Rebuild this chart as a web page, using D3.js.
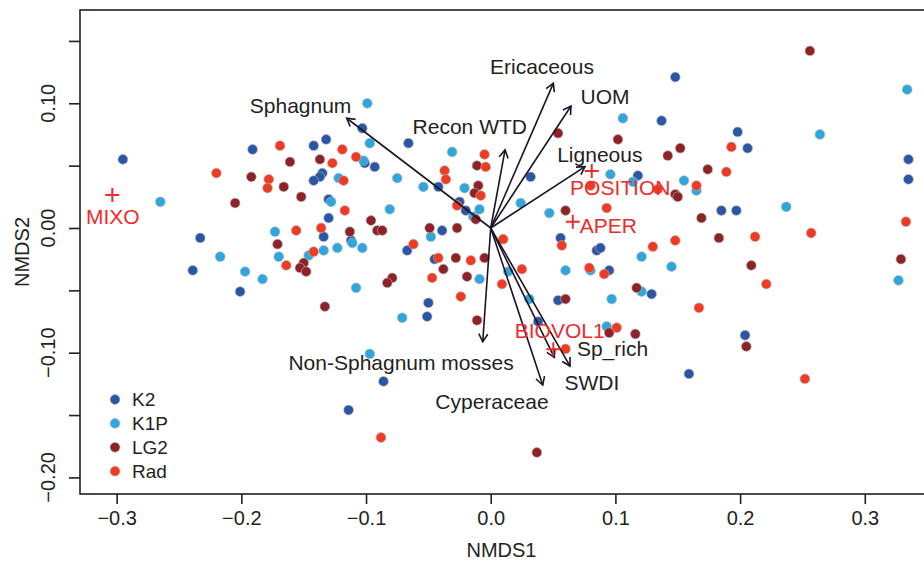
<!DOCTYPE html>
<html lang="en">
<head>
<meta charset="UTF-8">
<title>NMDS ordination</title>
<script src="https://d3js.org/d3.v7.min.js"></script>
<style>
    body { margin: 0; background: #fff; }
    svg { display: block; font-family: Helvetica, Arial, "Liberation Sans", sans-serif; }
</style>
</head>
<body>
<svg width="924" height="562"></svg>
<script>
// site scores (NMDS1, NMDS2) per group
const k2 = [[-0.295,0.055],[-0.191,0.063],[-0.233,-0.008],[-0.239,-0.034],[-0.201,-0.051],[-0.103,0.080],[-0.066,0.068],[-0.142,0.066],[-0.132,0.071],[-0.101,0.052],[-0.093,0.049],[-0.135,0.044],[-0.137,0.041],[-0.142,0.038],[-0.042,0.033],[-0.130,0.023],[-0.130,0.008],[-0.025,0.021],[-0.020,0.014],[-0.134,-0.007],[-0.039,-0.002],[-0.112,-0.010],[-0.067,-0.018],[-0.045,-0.025],[-0.050,-0.060],[-0.051,-0.071],[-0.086,-0.123],[-0.114,-0.146],[0.148,0.121],[0.137,0.086],[0.032,0.041],[0.118,0.042],[0.056,-0.008],[0.085,-0.018],[0.088,-0.016],[0.095,-0.034],[0.054,-0.058],[0.129,-0.053],[0.038,-0.075],[0.159,-0.117],[0.198,0.077],[0.206,0.064],[0.335,0.055],[0.335,0.039],[0.185,0.014],[0.197,0.014],[0.204,-0.086]];
const k1p = [[-0.265,0.021],[-0.173,-0.003],[-0.217,-0.023],[-0.170,-0.023],[-0.197,-0.035],[-0.183,-0.041],[-0.099,0.100],[-0.097,0.068],[-0.102,0.054],[-0.031,0.061],[-0.075,0.040],[-0.122,0.040],[-0.054,0.033],[-0.021,0.032],[-0.128,0.021],[-0.081,0.015],[-0.009,0.015],[-0.014,0.009],[-0.048,-0.007],[-0.111,-0.012],[-0.103,-0.016],[-0.123,-0.016],[-0.134,-0.018],[-0.146,-0.022],[-0.108,-0.048],[-0.071,-0.072],[-0.097,-0.101],[0.106,0.088],[0.096,0.043],[0.114,0.037],[0.155,0.038],[0.165,0.030],[0.024,0.020],[0.047,0.012],[0.121,-0.023],[0.014,-0.035],[0.060,-0.034],[0.080,-0.034],[0.145,-0.031],[0.031,-0.057],[0.097,-0.057],[0.121,-0.051],[0.093,-0.079],[-0.009,-0.041],[0.334,0.111],[0.264,0.075],[0.237,0.017],[0.327,-0.042]];
const lg2 = [[-0.192,0.041],[-0.166,0.033],[-0.205,0.020],[-0.171,-0.013],[-0.161,0.053],[-0.137,0.055],[-0.011,0.050],[-0.010,0.034],[-0.013,0.028],[-0.152,0.025],[-0.012,0.007],[-0.096,0.006],[-0.091,-0.002],[-0.087,-0.002],[-0.113,-0.003],[-0.049,0.000],[-0.027,0.000],[-0.028,-0.024],[-0.005,-0.024],[-0.150,-0.028],[-0.153,-0.032],[-0.148,-0.035],[-0.079,-0.040],[-0.083,-0.044],[-0.133,-0.063],[-0.038,-0.033],[-0.019,-0.039],[-0.011,-0.074],[0.054,0.076],[0.102,0.071],[0.152,0.064],[0.142,0.058],[0.174,0.047],[0.148,0.027],[0.150,0.025],[0.060,0.014],[0.169,0.008],[0.060,-0.057],[0.117,-0.048],[0.095,-0.084],[0.116,-0.085],[0.037,-0.180],[0.256,0.142],[0.183,-0.008],[0.329,-0.025],[0.209,-0.030],[0.205,-0.095]];
const rad = [[-0.169,0.066],[-0.220,0.044],[-0.178,0.039],[-0.179,0.032],[-0.164,-0.030],[-0.119,0.063],[-0.127,0.052],[-0.108,0.057],[-0.005,0.059],[-0.004,0.049],[-0.037,0.046],[-0.036,0.039],[-0.118,0.038],[-0.008,0.026],[-0.117,0.014],[-0.027,0.018],[-0.156,-0.002],[-0.136,0.000],[-0.142,-0.019],[-0.062,-0.013],[-0.042,-0.024],[-0.016,-0.026],[-0.047,-0.040],[-0.024,-0.055],[-0.088,-0.168],[0.093,0.016],[0.080,0.034],[0.134,0.031],[0.165,0.034],[0.010,-0.009],[0.057,-0.014],[0.130,-0.015],[0.148,-0.010],[0.025,-0.033],[0.009,-0.045],[0.079,-0.032],[0.091,-0.037],[0.167,-0.064],[0.101,-0.080],[0.060,-0.097],[0.193,0.065],[0.189,0.045],[0.212,-0.007],[0.257,-0.004],[0.333,0.005],[0.221,-0.045],[0.252,-0.121]];

const groupNames = ["K2", "K1P", "LG2", "Rad"];
const groupColors = ["#2b55a5", "#2fa7dd", "#8e2327", "#ee3b24"];

// fitted vectors: arrow tips and label positions
const vecNames = ["Sphagnum", "Ericaceous", "UOM", "Recon WTD", "Ligneous", "Non-Sphagnum mosses", "Cyperaceae", "Sp_rich", "SWDI"];
const vecX = [-0.1155, 0.0502, 0.0644, 0.0115, 0.0756, -0.0064, 0.0417, 0.0510, 0.0636];
const vecY = [0.0880, 0.1160, 0.0978, 0.0626, 0.0492, -0.0912, -0.1259, -0.1037, -0.1107];
const vecLabX = [-0.1525, 0.0411, 0.0917, -0.0168, 0.0875, -0.0719, 0.0010, 0.0977, 0.0812];
const vecLabY = [0.0986, 0.1291, 0.1051, 0.0810, 0.0593, -0.1080, -0.1393, -0.0965, -0.1241];

// factor centroids
const facNames = ["MIXO", "POSITION", "APER", "BIOVOL1"];
const facX = [-0.3035, 0.0810, 0.0658, 0.0502];
const facY = [0.0265, 0.0457, 0.0051, -0.0973];
const facLabX = [-0.3031, 0.1039, 0.0943, 0.0553];
const facLabY = [0.0091, 0.0323, 0.0018, -0.0824];

const xTicks = [-0.3, -0.2, -0.1, 0.0, 0.1, 0.2, 0.3];
const yTicks = [-0.20, -0.15, -0.10, -0.05, 0.00, 0.05, 0.10, 0.15];
const yLabelled = [-0.20, -0.10, 0.00, 0.10];

const pLeft = 80, pRight = 930, pTop = 10, pBottom = 494;
const svg = d3.select("svg");
const textCol = "#231f20";

const x = d3.scaleLinear().domain([-0.3294, 0.3523]).range([pLeft, pRight]);
const y = d3.scaleLinear().domain([-0.2133, 0.1748]).range([pBottom, pTop]);

const fmt = v => (v < 0 ? "\u2212" : "") + Math.abs(v).toFixed(1);
const fmtY = v => (v < 0 ? "\u2212" : "") + Math.abs(v).toFixed(2);

// box
svg.append("rect")
    .attr("x", pLeft).attr("y", pTop)
    .attr("width", pRight - pLeft).attr("height", pBottom - pTop)
    .attr("fill", "none").attr("stroke", textCol).attr("stroke-width", 1.6);

// x axis
const xAxis = svg.append("g")
    .attr("transform", `translate(0,${pBottom})`)
    .call(d3.axisBottom(x).tickValues(xTicks).tickSize(10).tickPadding(7).tickFormat(fmt));
xAxis.select(".domain").remove();
xAxis.selectAll("line").attr("stroke", textCol).attr("stroke-width", 1.6);
xAxis.selectAll("text").attr("font-size", 20).attr("fill", textCol)
    .attr("font-family", "Helvetica, Arial, 'Liberation Sans', sans-serif");

// y axis
const yAxis = svg.append("g")
    .attr("transform", `translate(${pLeft},0)`)
    .call(d3.axisLeft(y).tickValues(yTicks).tickSize(11).tickFormat(""));
yAxis.select(".domain").remove();
yAxis.selectAll("line").attr("stroke", textCol).attr("stroke-width", 1.6);

svg.append("g").selectAll("text")
    .data(yLabelled)
    .join("text")
    .attr("transform", d => `translate(48,${y(d)}) rotate(-90)`)
    .attr("text-anchor", "middle")
    .attr("dominant-baseline", "central")
    .attr("font-size", 20)
    .attr("fill", textCol)
    .text(fmtY);

svg.append("text")
    .attr("x", (pLeft + 923) / 2).attr("y", 550)
    .attr("text-anchor", "middle").attr("dominant-baseline", "central")
    .attr("font-size", 20).attr("fill", textCol)
    .text("NMDS1");

svg.append("text")
    .attr("transform", `translate(22,${(pTop + pBottom) / 2}) rotate(-90)`)
    .attr("text-anchor", "middle").attr("dominant-baseline", "central")
    .attr("font-size", 20).attr("fill", textCol)
    .text("NMDS2");

// plot area clip
svg.append("clipPath").attr("id", "clip")
    .append("rect").attr("x", pLeft).attr("y", pTop)
    .attr("width", pRight - pLeft).attr("height", pBottom - pTop);

const plot = svg.append("g").attr("clip-path", "url(#clip)");

// points
const groups = [k2, k1p, lg2, rad];
groups.forEach((pts, i) => {
    plot.append("g").selectAll("circle")
        .data(pts)
        .join("circle")
        .attr("cx", d => x(d[0]))
        .attr("cy", d => y(d[1]))
        .attr("r", 4.9)
        .attr("fill", groupColors[i])
        .attr("stroke", "#b9b9b9")
        .attr("stroke-width", 0.6);
});

// vectors
const arrowCol = "#1c1424";
const vecs = vecNames.map((n, i) => ({ name: n, x: vecX[i], y: vecY[i], lx: vecLabX[i], ly: vecLabY[i] }));
const vg = plot.append("g");
vecs.forEach(v => {
    const x0 = x(0), y0 = y(0), x1 = x(v.x), y1 = y(v.y);
    vg.append("line")
        .attr("x1", x0).attr("y1", y0).attr("x2", x1).attr("y2", y1)
        .attr("stroke", arrowCol).attr("stroke-width", 1.6);
    // open arrow head
    const ang = Math.atan2(y1 - y0, x1 - x0);
    const len = 9, spread = Math.PI / 6;
    const path = d3.path();
    path.moveTo(x1 - len * Math.cos(ang - spread), y1 - len * Math.sin(ang - spread));
    path.lineTo(x1, y1);
    path.lineTo(x1 - len * Math.cos(ang + spread), y1 - len * Math.sin(ang + spread));
    vg.append("path").attr("d", path.toString())
        .attr("fill", "none").attr("stroke", arrowCol).attr("stroke-width", 1.6);
});
vg.selectAll("text.vlab")
    .data(vecs)
    .join("text")
    .attr("class", "vlab")
    .attr("x", d => x(d.lx)).attr("y", d => y(d.ly))
    .attr("text-anchor", "middle").attr("dominant-baseline", "central")
    .attr("font-size", 21).attr("fill", textCol)
    .text(d => d.name);

// factor centroids
const red = "#ee2b2b";
const facs = facNames.map((n, i) => ({ name: n, x: facX[i], y: facY[i], lx: facLabX[i], ly: facLabY[i] }));
const fg = plot.append("g");
fg.selectAll("path")
    .data(facs)
    .join("path")
    .attr("d", d => {
        const cx = x(d.x), cy = y(d.y), s = 7;
        return `M${cx - s},${cy}H${cx + s}M${cx},${cy - s}V${cy + s}`;
    })
    .attr("stroke", red).attr("stroke-width", 2).attr("fill", "none");
fg.selectAll("text")
    .data(facs)
    .join("text")
    .attr("x", d => x(d.lx)).attr("y", d => y(d.ly))
    .attr("text-anchor", "middle").attr("dominant-baseline", "central")
    .attr("font-size", 21).attr("fill", red)
    .text(d => d.name);

// legend
const legend = svg.append("g");
groupNames.forEach((g, i) => {
    const ly = 399.5 + i * 23.9;
    legend.append("circle")
        .attr("cx", 115).attr("cy", ly).attr("r", 4.9)
        .attr("fill", groupColors[i]).attr("stroke", "#b9b9b9").attr("stroke-width", 0.6);
    legend.append("text")
        .attr("x", 132).attr("y", ly)
        .attr("dominant-baseline", "central")
        .attr("font-size", 19).attr("fill", textCol)
        .text(g);
});
</script>
</body>
</html>
